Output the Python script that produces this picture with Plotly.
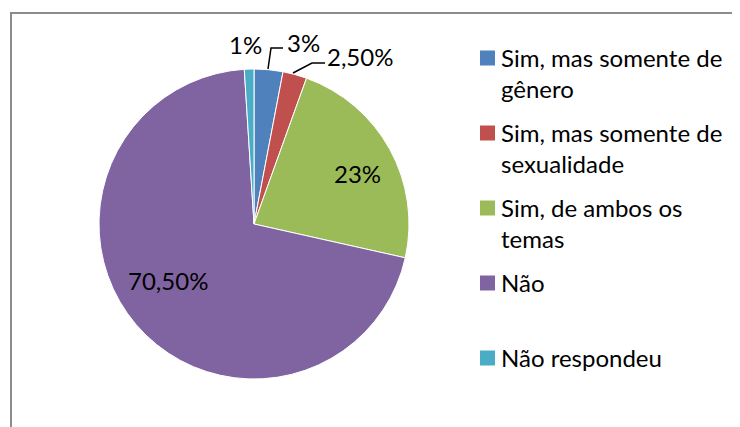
import plotly.graph_objects as go

# ---- data ----
categories = ["Sim, mas somente de gênero", "Sim, mas somente de sexualidade",
              "Sim, de ambos os temas", "Não", "Não respondeu"]
legend_text = ["Sim, mas somente de<br>gênero", "Sim, mas somente de<br>sexualidade",
               "Sim, de ambos os<br>temas", "Não", "Não respondeu"]
values = [3, 2.5, 23, 70.5, 1]
value_labels = ["3%", "2,50%", "23%", "70,50%", "1%"]
colors = ["#4F81BD", "#C0504D", "#9BBB59", "#8064A2", "#4BACC6"]

# ---- layout geometry (pixels of the 740x427 view; page body has an 8px margin) ----
OFF = 8
W, H = 740 - OFF, 427 - OFF
CX, CY, R = 254, 224, 155
FONT = "Lato"


def px(x, y):
    return (x - OFF) / W, 1 - (y - OFF) / H


label_pos = [(303, 42), (360, 57), (357, 173), (168, 280), (245, 44)]
leaders = [[(268, 69), (271, 48), (283, 48)],
           [(293, 73), (312, 63), (325, 63)]]
LEG_X0, LEG_SQ, LEG_TX = 480, 15, 499
LEG_Y0, LEG_STEP = 58, 75
LEG_FS = 24

fig = go.Figure()
d0 = px(CX - R, CY + R)
d1 = px(CX + R, CY - R)
fig.add_trace(go.Pie(
    labels=categories,
    values=values,
    sort=False,
    direction="clockwise",
    rotation=0,
    marker=dict(colors=colors, line=dict(color="white", width=1)),
    textinfo="none",
    hoverinfo="label+percent",
    showlegend=False,
    domain=dict(x=[d0[0], d1[0]], y=[d0[1], d1[1]]),
))

annotations = []
shapes = []
for txt, (x, y) in zip(value_labels, label_pos):
    ax, ay = px(x, y)
    annotations.append(dict(x=ax, y=ay, xref="paper", yref="paper", text=txt,
                            showarrow=False, xanchor="center", yanchor="middle",
                            font=dict(family=FONT, size=24, color="black")))

for pts in leaders:
    path = "M " + " L ".join(f"{px(x, y)[0]},{px(x, y)[1]}" for x, y in pts)
    shapes.append(dict(type="path", path=path, xref="paper", yref="paper",
                       line=dict(color="black", width=1.5)))

# legend (drawn as squares + text)
for i, (txt, col) in enumerate(zip(legend_text, colors)):
    yc = LEG_Y0 + i * LEG_STEP
    a = px(LEG_X0, yc - LEG_SQ / 2)
    b = px(LEG_X0 + LEG_SQ, yc + LEG_SQ / 2)
    shapes.append(dict(type="rect", xref="paper", yref="paper",
                       x0=a[0], x1=b[0], y0=b[1], y1=a[1],
                       fillcolor=col, line=dict(width=0)))
    tx, ty = px(LEG_TX, yc - 17)
    annotations.append(dict(x=tx, y=ty, xref="paper", yref="paper", text=txt,
                            showarrow=False, xanchor="left", yanchor="top", align="left",
                            font=dict(family=FONT, size=LEG_FS, color="black")))

# chart frame
fx0, fy0 = px(11, 440)
fx1, fy1 = px(11, 13)
fx2, _ = px(760, 13)
shapes.append(dict(type="path", path=f"M {fx0},{fy0} L {fx1},{fy1} L {fx2},{fy1}",
                   xref="paper", yref="paper", line=dict(color="#8C8C8C", width=2)))

fig.update_layout(
    width=W, height=H,
    margin=dict(l=0, r=0, t=0, b=0),
    paper_bgcolor="white",
    plot_bgcolor="white",
    font=dict(family=FONT, color="black"),
    showlegend=False,
    annotations=annotations,
    shapes=shapes,
)

fig.write_html("out.html")
